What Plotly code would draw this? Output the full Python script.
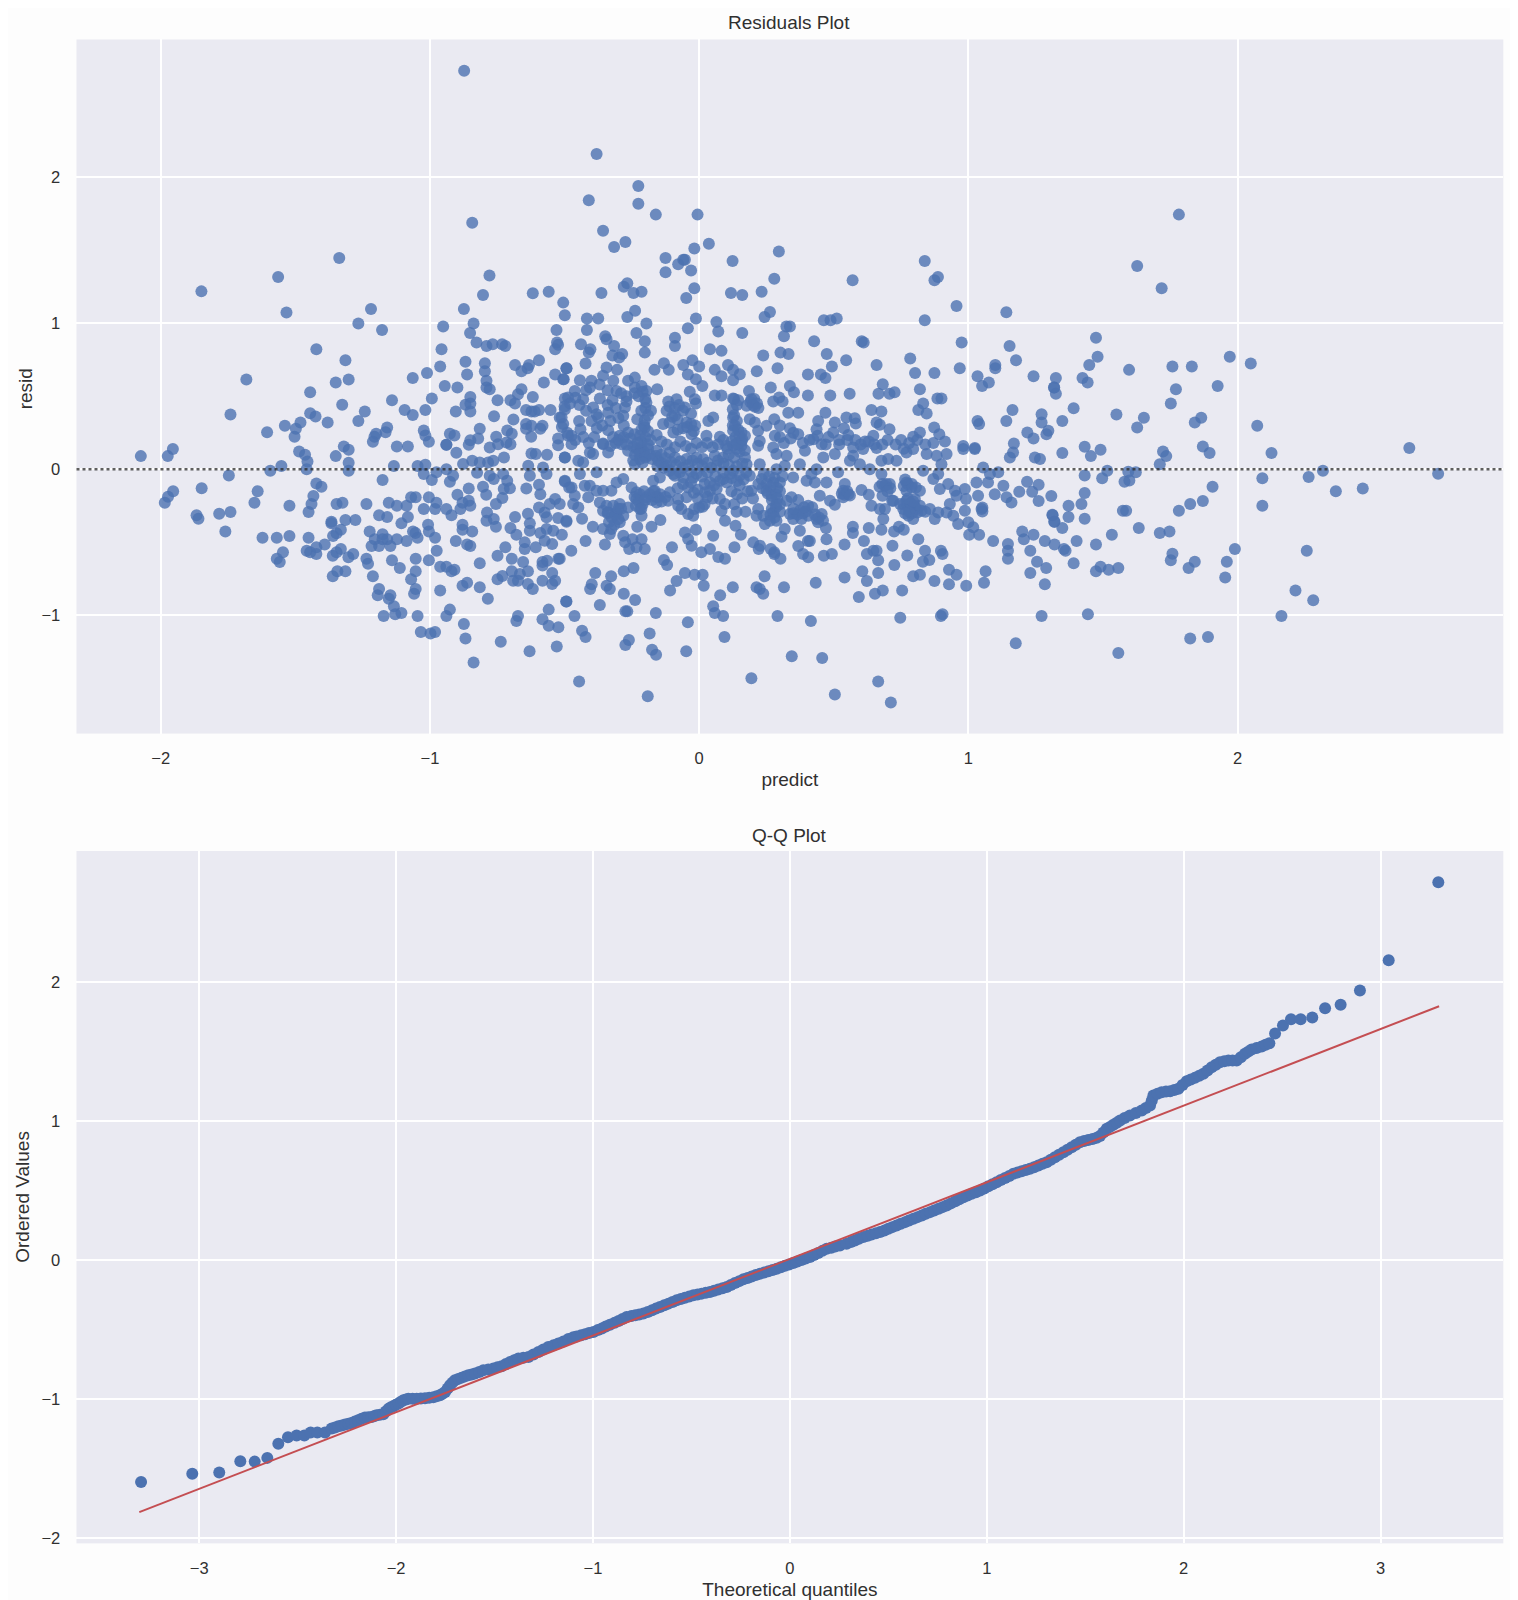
import plotly.graph_objects as go

# Residuals plot: (predict, resid), grouped by region
points_upper_left = [
(-.873,2.726),(-.843,1.687),(-1.337,1.445),(-1.564,1.316),(-1.849,1.217),(-1.533,1.072),(-1.219,1.097),(-1.266,.997),(-1.178,.953),
(-.779,1.325),(-.803,1.192),(-.874,1.097),(-.838,.997),(-.951,.976),(-.851,.933),(-.618,1.204),(-.559,1.215),(-.505,1.140),(-.499,1.053),
(-.530,.953),(-.827,.867),(-.790,.844),(-.767,.855),(-.732,.855),(-.720,.844),(-.528,.867),(-.524,.851),(-.535,.821),(-1.422,.821),
(-1.314,.746),(-.957,.821),(-.962,.703),(-1.011,.659),(-1.064,.625),(-.868,.735),(-.862,.648),(-.796,.725),(-.796,.671),(-.790,.605),
(-.790,.559),(-.778,.548),(-.684,.714),(-.660,.671),(-.632,.714),(-.637,.691),(-.595,.746),(-.535,.648),(-.493,.691),(-.505,.616),
(-.577,.593),(-1.302,.614),(-1.350,.593),(-1.682,.614),(-1.445,.527),(-.945,.570),(-.898,.559),(-.660,.548),(-.673,.514),(-.993,.484),
(-1.141,.473),(-1.326,.441),(-.850,.495),(-.850,.450),(-.868,.441),(-.850,.395),(-.904,.395),(-1.017,.406),(-1.094,.406),(-1.064,.372),
(-1.242,.395),(-1.266,.331),(-1.445,.384),(-1.425,.361),(-1.380,.320),(-1.481,.320),(-1.498,.277),(-1.539,.297),(-1.503,.222),(-1.605,.254),
(-1.741,.374),(-.749,.473),(-.701,.473),(-.684,.450),(-.618,.495),(-.552,.406),(-.643,.406),(-.623,.395),(-.611,.395),(-.595,.406),
(-.499,.484),(-.762,.363),(-.690,.340),(-.518,.354),(-.505,.309),(-.643,.309),(-.623,.297),(-.643,.277),(-.590,.277),(-.582,.297),
(-.624,.222),(-.815,.277),(-.713,.265),(-.696,.243),(-.754,.222),(-.821,.211),(-.850,.199),(-.856,.167),(-.926,.243),(-.909,.231),
(-1.023,.265),(-1.017,.231),(-1.004,.188),(-1.159,.286),(-1.165,.254),(-1.200,.243),(-1.206,.222),(-1.212,.188),(-1.123,.156),(-1.082,.156),
(-.939,.167),(-1.320,.156),(-1.302,.133),(-1.486,.122),(-1.955,.138),(-.524,.211),(-.524,.165),(-.487,.229),(-.778,.149),(-.747,.172),
(-.716,.183),(-.701,.172),
]
points_lower_left = [
(-2.074,.090),(-1.974,.090),(-1.954,-.151),(-1.973,-.188),(-1.985,-.229),(-1.848,-.129),(-1.747,-.042),(-1.867,-.315),(-1.860,-.338),
(-1.783,-.304),(-1.741,-.293),(-1.760,-.425),(-1.652,-.229),(-1.640,-.151),(-1.593,-.010),(-1.552,.022),(-1.522,-.249),(-1.622,-.468),
(-1.569,-.468),(-1.522,-.457),(-1.451,-.468),(-1.546,-.568),(-1.569,-.612),(-1.558,-.634),(-1.458,-.557),(-1.445,-.568),(-1.422,-.580),
(-1.422,-.534),(-1.391,-.514),(-1.451,-.293),(-1.440,-.238),(-1.433,-.183),(-1.422,-.097),(-1.403,-.119),(-1.464,.099),(-1.455,.054),
(-1.458,.001),(-1.350,.090),(-1.302,.045),(-1.302,-.010),(-1.347,-.238),(-1.325,-.229),(-1.236,-.238),(-1.366,-.359),(-1.366,-.370),
(-1.314,-.347),(-1.277,-.347),(-1.331,-.413),(-1.347,-.438),(-1.360,-.457),(-1.361,-.591),(-1.331,-.545),(-1.347,-.568),(-1.303,-.602),
(-1.285,-.580),(-1.361,-.732),(-1.344,-.698),(-1.314,-.698),(-1.236,-.612),(-1.230,-.646),(-1.212,-.732),(-1.189,-.819),(-1.194,-.862),
(-1.224,-.425),(-1.189,-.315),(-1.159,-.327),(-1.153,-.229),(-1.123,-.249),(-1.087,-.249),(-1.176,-.074),(-1.134,.022),(-1.106,-.370),
(-1.082,-.327),(-1.176,-.445),(-1.205,-.479),(-1.176,-.479),(-1.159,-.479),(-1.123,-.479),(-1.087,-.491),(-1.217,-.525),(-1.189,-.525),
(-1.147,-.525),(-1.141,-.623),(-1.112,-.675),(-1.053,-.612),(-1.004,-.623),(-.975,-.557),(-1.053,-.698),(-1.070,-.753),(-1.053,-.819),
(-1.059,-.851),(-1.147,-.862),(-1.153,-.885),(-1.134,-.937),(-1.129,-.992),(-1.106,-.983),(-1.172,-1.003),(-1.046,-1.003),(-1.034,-1.113),
(-.998,-1.124),(-.981,-1.113),(-.962,-.830),(-.939,-1.003),(-.926,-.960),(-.874,-1.058),(-.868,-1.158),(-.838,-1.322),(-.737,-1.179),
(-.630,-1.245),(-.529,-1.213),(-.673,-1.003),(-.679,-1.038),(-.582,-1.026),(-.559,-1.070),(-.523,-1.081),(-.559,-.960),(-.494,-.905),
(-.785,-.885),(-.815,-.807),(-.879,-.796),(-.862,-.776),(-.815,-.643),(-.962,-.666),(-.939,-.666),(-.920,-.698),(-.909,-.687),(-1.054,-.436),
(-1.046,-.468),(-1.063,-.425),(-1.007,-.379),(-1.004,-.425),(-.981,-.468),(-1.023,-.272),(-.981,-.272),(-.939,-.272),(-.920,-.315),
(-1.004,-.192),(-.976,-.229),(-1.070,-.192),(-1.053,-.192),(-1.023,-.033),(-.993,-.074),(-.926,-.085),(-.914,-.044),(-1.046,.022),
(-1.017,.031),(-.939,.001),(-.976,-.021),(-.939,.168),(-.902,.113),(-.877,.036),(-.856,-.131),(-.898,-.174),(-.879,-.229),(-.856,-.215),
(-.887,-.272),(-.850,-.249),(-.904,-.491),(-.862,-.514),(-.850,-.525),(-.879,-.379),(-.879,-.413),(-.843,-.425),(-.803,-.119),(-.791,-.174),
(-.843,.058),(-.815,.047),(-.825,-.024),(-.784,.047),(-.765,.058),(-.778,-.044),(-.763,-.067),(-.725,.081),(-.728,-.033),(-.713,-.078),
(-.703,-.129),(-.726,-.135),(-.731,-.197),(-.755,-.238),(-.788,-.295),(-.790,-.352),(-.763,-.340),(-.755,-.393),(-.684,-.327),(-.701,-.402),
(-.679,-.448),(-.720,-.534),(-.749,-.591),(-.696,-.612),(-.749,-.753),(-.731,-.730),(-.696,-.698),(-.691,-.762),(-.666,-.716),(-.673,-.762),
(-.654,-.634),(-.636,-.698),(-.636,-.785),(-.618,-.819),(-.582,-.762),(-.546,-.710),(-.546,-.785),(-.535,-.762),(-.648,-.500),(-.648,-.545),
(-.607,-.534),(-.582,-.634),(-.565,-.625),(-.582,-.659),(-.523,-.612),(-.629,-.420),(-.629,-.370),(-.636,-.304),(-.590,-.436),(-.574,-.489),
(-.546,-.511),(-.567,-.409),(-.542,-.420),(-.510,-.448),(-.595,-.261),(-.574,-.295),(-.555,-.238),(-.535,-.204),(-.567,-.329),(-.524,-.334),
(-.493,-.352),(-.590,-.170),(-.595,-.106),(-.642,-.131),(-.635,.024),(-.629,-.044),(-.607,.104),(-.623,.108),(-.565,.099),(-.567,-.033),
(-.580,.013),(-.499,.081),(-.499,-.083),(-.483,-.124),
]
points_upper_middle = [
(-.381,2.156),(-.226,1.938),(-.410,1.840),(-.226,1.817),(-.161,1.742),(-.006,1.742),(-.357,1.632),(-.316,1.521),(-.274,1.555),(.036,1.543),
(-.018,1.511),(-.125,1.445),(-.125,1.347),(-.078,1.402),(-.059,1.434),(-.053,1.434),(-.030,1.359),(-.018,1.238),(-.048,1.172),(.124,1.425),
(.296,1.489),(.279,1.304),(.232,1.215),(.118,1.206),(.160,1.192),(-.363,1.206),(-.280,1.249),(-.267,1.272),(-.244,1.206),(-.214,1.215),
(-.238,1.085),(-.267,1.042),(-.417,1.031),(-.375,1.031),(-.417,.953),(-.196,.997),(-.233,.933),(-.012,1.031),(-.042,.965),(.064,1.008),
(.071,.942),(.160,.933),(.243,1.042),(.263,1.076),(.315,.910),(.324,.976),(.337,.976),(.463,1.019),(.488,1.019),(.511,1.031),(.570,1.293),
(.838,1.425),(.874,1.293),(.887,1.316),(.956,1.117),(.838,1.019),(1.141,1.074),(.427,.876),(.604,.876),(.611,.867),(.975,.867),(1.153,.844),
(1.177,.746),(-.349,.910),(-.344,.889),(-.439,.855),(-.404,.821),(-.410,.798),(-.316,.844),(-.286,.789),(-.322,.778),(-.202,.876),(-.202,.798),
(-.090,.899),(-.090,.844),(.040,.821),(.083,.810),(.238,.778),(.302,.798),(.332,.789),(.474,.789),(.493,.703),(.546,.746),(.659,.714),
(.784,.757),(.802,.659),(.874,.659),(.968,.691),(1.034,.637),(1.051,.570),(1.076,.593),(1.100,.714),(1.100,.691),(1.242,.637),(1.318,.559),
(-.422,.723),(-.493,.691),(-.297,.764),(-.305,.680),(-.344,.696),(-.166,.680),(-.131,.725),(-.113,.680),(-.059,.714),(-.025,.746),(.000,.703),
(.058,.680),(.083,.637),(.107,.714),(.126,.680),(.151,.650),(.126,.609),(.214,.671),(.291,.691),(.404,.648),(.452,.648),(.469,.625),
(-.042,.648),(-.012,.616),(.012,.570),(-.503,.616),(-.443,.609),(-.400,.605),(-.357,.639),(-.319,.605),(-.264,.605),(-.239,.627),(-.214,.570),
(-.196,.536),(-.156,.548),(-.462,.536),(-.406,.559),(-.307,.536),(-.239,.559),(-.487,.491),(-.431,.479),(-.369,.484),(-.322,.473),(-.270,.463),
(-.394,.422),(-.381,.377),(-.338,.386),(-.375,.354),(-.499,.409),(-.511,.354),(-.446,.331),(-.441,.274),(-.276,.422),(-.282,.366),(-.230,.343),
(-.202,.336),(-.196,.456),(-.179,.400),(-.115,.463),(-.084,.479),(-.121,.400),(-.090,.366),(-.035,.530),(-.016,.479),(-.053,.422),(-.012,.450),
(.058,.504),(.083,.504),(.126,.484),(.145,.473),(.185,.536),(.194,.479),(.207,.427),(.176,.434),(.266,.559),(.337,.570),(.352,.527),(.297,.491),
(.275,.463),(.310,.463),(.404,.504),(.487,.504),(.559,.516),(.682,.582),(.666,.516),(.707,.516),(.726,.527),(.820,.548),(.832,.450),(.814,.406),
(.845,.381),(.885,.484),(.900,.484),(.640,.406),(.677,.395),(.469,.386),(.331,.386),(.368,.386),(1.164,.406),(1.141,.331),(1.272,.377),(1.272,.320),
(1.034,.331),(1.040,.309),(.547,.354),(.578,.349),(.582,.313),(.504,.320),(.442,.331),(.436,.274),(.538,.281),(.498,.252),(.554,.235),(.659,.320),
(.671,.304),(.707,.274),(.873,.286),(.892,.240),(.913,.190),(.820,.252),(.795,.222),(1.219,.252),(1.242,.211),(1.297,.263),(1.290,.240),(.647,.229),
(.616,.190),(.572,.149),(1.169,.176),(.981,.160),(1.024,.145),(.188,.343),(.207,.320),(.250,.297),(.279,.343),(.337,.281),(.368,.240),(.281,.229),
(.219,.263),(.225,.194),(.424,.206),(.455,.172),(.034,.331),(.052,.354),(.126,.354),(.133,.297),(.157,.252),(.126,.263),(.157,.190),(.027,.229),
(.077,.222),(-.028,.240),(-.047,.320),(-.096,.252),(-.134,.309),(-.158,.235),(-.338,.267),(-.295,.229),(-.264,.252),(-.220,.229),(-.202,.286),
(-.357,.176),(-.474,.229),(-.474,.172),
]
points_lower_middle = [
(.194,-1.430),(-.446,-1.452),(-.191,-1.553),(.504,-1.541),(.665,-1.452),(.712,-1.596),(.344,-1.279),(.457,-1.291),(-.048,-1.245),(-.160,-1.268),
(-.175,-1.234),(-.274,-1.202),(-.261,-1.168),(-.184,-1.124),(-.422,-1.147),(-.435,-1.104),(-.042,-1.047),(.094,-1.147),(1.176,-1.190),(1.272,-1.003),
(.747,-1.015),(.898,-1.003),(.904,-.992),(.291,-1.003),(.415,-1.038),(.089,-1.003),(.058,-.983),(.052,-.937),(.078,-.862),(-.161,-.983),(-.274,-.972),
(-.267,-.972),(-.369,-.928),(-.463,-1.003),(-.493,-.905),(-.238,-.894),(-.280,-.851),(-.108,-.830),(.017,-.796),(-.084,-.764),(-.053,-.710),
(-.017,-.721),(.013,-.721),(.125,-.807),(.213,-.807),(.225,-.819),(.238,-.851),(.315,-.807),(.433,-.776),(.243,-.732),(.540,-.741),(.606,-.698),
(.623,-.764),(.665,-.710),(.593,-.874),(.653,-.851),(.682,-.830),(.754,-.830),(.795,-.732),(.820,-.721),(.874,-.764),(.928,-.687),(.956,-.721),
(.928,-.787),(.992,-.796),(1.058,-.776),(1.064,-.698),(1.230,-.710),(1.289,-.675),(1.284,-.787),(1.255,-.632),(.725,-.655),(.831,-.632),(.855,-.621),
(.773,-.589),(.839,-.557),(.898,-.557),(.904,-.580),(1.147,-.511),(1.147,-.557),(1.147,-.612),(1.230,-.557),(1.200,-.425),(1.206,-.479),(1.242,-.448),
(1.284,-.491),(1.320,-.514),(1.092,-.491),(1.040,-.448),(1.003,-.448),(.814,-.479),(.718,-.523),(.623,-.580),(.647,-.557),(.659,-.557),(.665,-.623),
(.612,-.491),(.540,-.514),(.677,-.413),(.630,-.402),(.571,-.393),(.571,-.436),(.724,-.425),(.742,-.393),(.760,-.413),(.473,-.479),(.404,-.491),
(.411,-.491),(.368,-.525),(.386,-.580),(.405,-.602),(.463,-.591),(.493,-.580),(.266,-.545),(.279,-.568),(.302,-.612),(.279,-.580),(.221,-.545),
(.201,-.500),(.226,-.523),(.131,-.534),(.071,-.600),(.096,-.612),(.155,-.448),(.135,-.386),(.008,-.568),(-.028,-.523),(-.041,-.477),(-.053,-.432),
(.040,-.545),(.052,-.454),(-.012,-.413),(-.101,-.534),(-.131,-.621),(-.119,-.655),(-.202,-.545),(-.214,-.479),(-.248,-.479),(-.275,-.500),(-.233,-.534),
(-.260,-.545),(-.244,-.675),(-.280,-.698),(-.327,-.732),(-.332,-.819),(-.344,-.796),(-.386,-.710),(-.399,-.787),(-.405,-.819),(-.350,-.514),(-.422,-.491),
(-.475,-.557),(-.518,-.612),(-.177,-.393),(-.144,-.347),(-.230,-.393),(-.282,-.454),(-.332,-.443),(-.357,-.409),(-.395,-.393),(-.435,-.338),(-.493,-.359),
]
points_center = [
(.000,-.261),(-.018,-.272),(.013,-.256),(-.066,-.272),(-.041,-.306),(-.022,-.318),(-.078,-.249),(.077,-.204),(.096,-.238),(.083,-.283),(.096,-.352),
(.139,-.290),(.172,-.290),(.219,-.272),(.238,-.318),(.213,-.318),(.275,-.295),(.263,-.352),(.244,-.375),(.287,-.352),(.325,-.215),(.343,-.192),
(.368,-.211),(.405,-.249),(.374,-.283),(.337,-.306),(.349,-.340),(.380,-.340),(.405,-.318),(.436,-.340),(.455,-.306),(.442,-.363),(.471,-.402),
(.374,-.420),(.318,-.409),(.306,-.461),(.486,-.215),(.504,-.243),(.535,-.147),(.554,-.170),(.535,-.192),(.603,-.142),(.630,-.174),(.640,-.249),
(.671,-.272),(.690,-.272),(.684,-.340),(.717,-.215),(.746,-.238),(.770,-.215),(.783,-.272),(.807,-.272),(.826,-.283),(.795,-.340),(.777,-.318),
(.758,-.272),(.801,-.204),(.857,-.272),(.875,-.340),(.888,-.295),(.919,-.295),(.944,-.318),(.962,-.375),(.987,-.283),(.991,-.204),(1.000,-.363),
(1.018,-.397),(1.049,-.272),(1.052,-.288),(1.098,-.170),(1.142,-.192),(1.160,-.227),(1.189,-.154),(1.218,-.085),(1.237,-.154),(1.261,-.106),
(1.261,-.217),(1.308,-.183),(1.312,-.311),(1.320,-.359),(.925,-.101),(.950,-.147),(.956,-.181),(.931,-.238),(.894,-.135),(.870,-.067),(.888,-.033),
(.832,-.010),(.900,.035),(.770,-.090),(.789,-.124),(.820,-.147),(.770,-.147),(.690,-.113),(.708,-.101),(.677,-.033),(.721,-.215),(.681,-.181),
(.541,-.101),(.516,-.021),(.430,-.090),(.399,-.078),(.473,-.090),(.448,-.181),(.349,-.056),(.417,-.033),(.987,-.135),(1.030,-.090),(1.055,.013),
(1.073,-.090),(1.080,-.033),(1.111,-.021),(1.130,-.113),(1.036,-.181),(1.052,-.261),(-.499,-.078),(-.474,-.124),(-.462,-.181),(-.468,-.238),
(-.449,-.261),(-.518,-.238),(-.406,-.113),(-.381,-.147),(-.357,-.147),(-.326,-.147),(-.412,-.192),(-.369,-.227),(-.344,-.249),(-.319,-.249),
(-.295,-.238),(-.357,-.283),(-.338,-.295),(-.307,-.295),(-.282,-.318),(-.295,-.363),(-.326,-.409),(-.264,-.261),(-.220,-.272),(-.214,-.318),
(-.233,-.158),(-.233,-.204),(-.196,-.192),(-.165,-.147),(-.152,-.192),(-.183,-.170),(-.158,-.227),(-.109,-.158),(-.115,-.215),(-.078,-.204),
(-.041,-.124),(-.047,-.192),(-.251,-.124),(-.282,-.067),(-.307,-.090),(-.425,-.113),(-.443,-.033),(-.381,-.021),(-.431,.047),(-.406,.115),
(-.394,.104),(-.449,.058),(-.499,.081),(-.357,.172),(-.338,.115),(-.288,.172),(-.264,.127),(-.220,.127),(-.202,.092),(-.220,.070),(-.239,.035),
(-.158,.127),(-.152,.058),(-.109,.115),(-.090,.081),(-.072,-.021),(-.121,.024),(-.047,.070),(-.010,.081),(.015,.070),(.058,.092),(.089,.081),
(.126,.161),(.157,.161),(.170,.081),(.219,.161),(.275,.149),(.287,.104),(.325,.092),(.393,.127),(.461,.081),(.504,.104),(.572,.092),(.609,.138),
(.659,.145),(.702,.070),(.733,.058),(.770,.115),(.795,.138),(.845,.104),(.882,.092),(.919,.104),(.981,.138),(1.024,.138),(1.154,.081),(1.166,.115),
(1.247,.081),(1.266,.070),(.065,.024),(.126,-.010),(.176,.035),(.225,.035),(.188,-.044),(.232,-.067),(.275,-.090),(.300,-.090),(.250,-.147),
(.269,-.181),(.287,-.238),(.194,-.147),(.102,-.090),(.077,-.078),(.040,-.147),(.021,-.158),(.065,-.135),(.089,-.067),(.151,-.044),(.114,-.033),
(-.022,-.056),(-.059,-.056),(-.096,-.033),(-.146,-.056),(-.171,-.078),(.287,.001),(.318,.024),(.374,.035),(.436,.001),(.560,.058),(.597,.035),
(.634,.001),(.677,.058),
]
points_dense_core = [
(-.245,.155),(-.232,.14),(-.215,.15),(-.205,.118),(-.19,.14),(-.238,.098),(-.222,.105),(-.2,.08),(-.182,.1),(-.175,.07),(-.245,.06),(-.21,.045),
(-.16,.09),(-.14,.1),(-.125,.075),(-.14,.04),(-.105,.05),(-.085,.03),(-.13,.01),(-.11,-.01),(-.09,-.045),(-.155,.02),(-.07,.055),(-.06,.01),
(-.04,.03),(-.025,.06),(-.005,.04),(.012,.02),(.03,.045),(-.03,-.015),(-.01,-.03),(.01,-.05),(.03,-.02),(.045,.01),
(.07,.06),(.09,.04),(.11,.1),(.13,.08),(.15,.12),(.11,.03),(.14,.02),(.16,.04),(.12,-.06),(.14,-.08),(.165,-.07),(.175,-.02),(.09,-.02),(.06,-.05),(.105,.14),(.14,.14),(.17,.13),
(.24,-.03),(.26,-.05),(.28,-.06),(.25,-.1),(.265,-.12),(.29,-.13),(.255,-.165),(.285,-.17),(.3,-.15),(.27,-.21),(.29,-.2),(.31,-.05),(.235,-.13),(.22,-.1),
(.27,-.27),(.285,-.26),(.3,-.29),(.265,-.31),(.28,-.33),(.3,-.24),
(-.34,-.3),(-.325,-.33),(-.31,-.31),(-.3,-.27),(-.335,-.36),(-.315,-.38),(-.3,-.34),(-.29,-.27),
(-.24,-.19),(-.225,-.22),(-.21,-.24),(-.22,-.17),(-.205,-.15),(-.235,-.25),(-.2,-.21),(-.215,-.27),
(-.175,-.21),(-.16,-.19),(-.145,-.17),(-.14,-.22),(-.17,-.15),(-.125,-.19),
(.76,-.24),(.775,-.25),(.785,-.23),(.8,-.25),(.81,-.295),(.79,-.3),(.78,-.29),(.765,-.3),(.82,-.25),(.775,-.2),(.795,-.22),(.84,-.29),
(.67,-.12),(.68,-.1),(.695,-.1),(.71,-.13),(.7,-.15),(.76,-.115),(.775,-.1),(.79,-.1),(.805,-.125),(.765,-.07),
(.53,-.165),(.54,-.175),(.55,-.15),(.56,-.18),(.43,-.31),(.445,-.33),(.46,-.35),(.42,-.26),(.395,-.29),(.35,-.3),(.365,-.31),(.385,-.3),(.35,-.27),(.39,-.26),
(.02,-.1),(.04,-.09),(.055,-.11),(.03,-.19),(.05,-.2),(-.02,-.16),(-.005,-.14),(-.005,-.2),(.02,-.24),(-.06,-.1),(-.08,-.13),(-.03,-.09),(.12,-.15),(.14,-.17),(.16,-.2),(.18,-.15),(.2,-.2),(.13,-.24),(.15,-.11),
(.13,.48),(.14,.44),(.125,.41),(.13,.37),(.14,.33),(.125,.3),(.145,.27),(.15,.23),(.135,.22),(.12,.19),(.14,.175),(.16,.205),(.17,.23),
(-.24,.52),(-.225,.5),(-.21,.53),(-.2,.48),(-.2,.42),(-.215,.4),(-.19,.37),(-.205,.3),(-.215,.27),(-.19,.26),(-.2,.22),(-.215,.19),(-.18,.2),(-.23,.18),(-.19,.17),
(-.11,.43),(-.09,.42),(-.075,.44),(-.1,.36),(-.08,.34),(-.06,.4),(-.03,.38),(-.045,.29),(-.03,.31),(-.015,.3),(-.06,.28),(-.08,.27),(-.02,.26),(-.11,.32),
(-.32,.22),(-.3,.2),(-.28,.22),(-.255,.21),(-.24,.24),(-.31,.18),(-.27,.17),(-.33,.16),(.19,.46),(.205,.48),(.215,.45),(.2,.44),(.22,.42),
(-.46,.49),(-.445,.44),(-.42,.4),(-.48,.45),(-.5,.43),(-.51,.29),(-.49,.25),(-.46,.2),(-.43,.22),(-.41,.18),(-.39,.22),(-.38,.28),(-.4,.33),(-.36,.3),(-.34,.44),(-.31,.42),
(-.3,.35),(-.33,.33),(-.28,.3),(-.27,.5),(-.29,.52),(-.34,.54),(-.42,.54),(-.37,.58),
(.3,.22),(.315,.18),(.34,.21),(.3,.3),(.35,.25),(.385,.18),(.41,.2),(.44,.23),(.47,.17),(.48,.22),(.52,.2),(.52,.17),(.55,.2),(.58,.2),(.6,.17),(.63,.19),(.65,.17),(.68,.17),
(.7,.2),(.73,.17),(.75,.2),(.78,.18),(.81,.2),(.84,.17),(.87,.18),(.76,.14),
(.01,.15),(.03,.18),(.05,.15),(.07,.17),(.09,.2),(.1,.16),(-.01,.18),(-.03,.14),(-.05,.16),(-.07,.19),(-.09,.15),(-.12,.17),(-.14,.19),
]
points_right = [
(1.782,1.742),(1.627,1.391),(1.718,1.238),(1.474,.899),(1.480,.769),(1.449,.714),(1.424,.625),(1.443,.593),(1.325,.625),(1.319,.559),(1.325,.516),
(1.597,.680),(1.758,.703),(1.830,.703),(1.771,.548),(1.926,.570),(1.971,.769),(2.049,.723),(1.752,.450),(1.391,.418),(1.550,.374),(1.652,.352),
(1.627,.286),(1.865,.352),(1.841,.320),(2.073,.297),(1.349,.331),(1.432,.154),(1.455,.090),(1.491,.133),(1.349,.111),(1.723,.122),(1.735,.090),
(1.711,.035),(1.871,.156),(1.896,.111),(2.126,.111),(2.638,.145),(1.516,-.010),(1.432,-.042),(1.497,-.062),(1.594,-.017),(1.622,-.021),(1.580,-.085),
(1.598,-.076),(1.432,-.163),(1.372,-.249),(1.420,-.238),(1.372,-.327),(1.432,-.338),(1.313,-.315),(1.319,-.359),(1.349,-.402),(1.402,-.491),(1.474,-.514),
(1.533,-.448),(1.574,-.283),(1.586,-.283),(1.633,-.402),(1.711,-.436),(1.747,-.425),(1.782,-.283),(1.824,-.238),(1.871,-.217),(1.907,-.119),(2.092,-.062),
(2.092,-.249),(2.264,-.053),(2.317,-.010),(2.365,-.151),(2.465,-.131),(2.745,-.031),(1.990,-.545),(2.257,-.557),(1.758,-.577),(1.752,-.623),(1.841,-.632),
(1.818,-.675),(1.960,-.632),(1.954,-.741),(1.355,-.546),(1.361,-.557),(1.391,-.643),(1.491,-.666),(1.474,-.698),(1.521,-.687),(1.557,-.675),(1.444,-.992),
(1.557,-1.256),(1.824,-1.158),(1.890,-1.147),(2.163,-1.003),(2.215,-.830),(2.281,-.896),
]
resid_points = (points_upper_left + points_lower_left + points_upper_middle
                + points_lower_middle + points_center + points_dense_core + points_right)
predict = [p[0] for p in resid_points]
resid = [p[1] for p in resid_points]

# Q-Q plot: (theoretical quantile, ordered value) read along the band
qq_lower = [
(-3.295,-1.597),(-3.035,-1.539),(-2.898,-1.530),(-2.791,-1.448),(-2.718,-1.451),(-2.654,-1.424),(-2.598,-1.323),(-2.549,-1.275),(-2.505,-1.263),
(-2.466,-1.263),(-2.434,-1.242),(-2.400,-1.242),(-2.361,-1.242),(-2.327,-1.213),(-2.310,-1.205),(-2.293,-1.196),(-2.276,-1.190),(-2.259,-1.184),
(-2.242,-1.178),(-2.226,-1.172),(-2.209,-1.162),(-2.192,-1.153),(-2.175,-1.143),(-2.158,-1.134),(-2.141,-1.132),(-2.124,-1.129),(-2.110,-1.122),
(-2.099,-1.117),(-2.082,-1.114),(-2.065,-1.110),(-2.052,-1.090),(-2.039,-1.071),(-2.026,-1.060),(-2.014,-1.052),(-2.001,-1.042),(-1.988,-1.033),
(-1.975,-1.020),(-1.963,-1.009),(-1.950,-1.003),(-1.938,-.999),(-1.916,-.999),(-1.895,-.999),(-1.874,-.997),(-1.853,-.995),(-1.832,-.991),(-1.811,-.987),
(-1.794,-.981),(-1.777,-.973),(-1.764,-.962),(-1.751,-.949),(-1.738,-.925),(-1.726,-.901),(-1.714,-.882),(-1.701,-.865),(-1.684,-.855),(-1.667,-.846),
(-1.650,-.837),(-1.633,-.829),(-1.616,-.823),(-1.599,-.817),(-1.578,-.805),(-1.557,-.793),(-1.532,-.787),(-1.506,-.781),(-1.485,-.772),(-1.464,-.764),
(-1.442,-.748),(-1.421,-.733),(-1.400,-.721),(-1.379,-.709),(-1.354,-.703),(-1.328,-.697),(-1.302,-.679),(-1.277,-.661),(-1.252,-.643),(-1.227,-.625),
(-1.200,-.613),(-1.176,-.601),(-1.150,-.585),(-1.125,-.568),(-1.100,-.556),(-1.083,-.549),(-1.060,-.540),(-1.040,-.533),(-1.020,-.525),(-.998,-.517),
(-.975,-.503),(-.955,-.492),(-.935,-.478),(-.914,-.465),(-.890,-.450),(-.870,-.438),(-.850,-.423),(-.829,-.409),(-.805,-.402),(-.785,-.396),(-.765,-.391),
(-.744,-.385),(-.722,-.373),(-.700,-.361),(-.680,-.349),(-.660,-.337),(-.638,-.325),(-.617,-.313),(-.596,-.301),(-.575,-.289),(-.554,-.279),(-.533,-.270),
(-.511,-.262),(-.490,-.253),(-.469,-.247),(-.448,-.241),(-.427,-.235),(-.406,-.229),(-.385,-.220),(-.364,-.211),(-.342,-.202),(-.321,-.193),(-.300,-.179),
(-.279,-.165),(-.257,-.151),(-.236,-.138),(-.215,-.128),(-.194,-.117),(-.173,-.107),(-.152,-.097),(-.130,-.088),(-.109,-.079),(-.088,-.070),(-.067,-.061),
(-.046,-.051),(-.025,-.041),(-.004,-.031),
]
qq_upper = [
(.017,-.021),(.038,-.010),(.059,.001),(.080,.012),(.102,.022),(.123,.037),(.144,.052),(.165,.067),(.187,.083),(.210,.090),(.230,.098),(.254,.106),(.288,.118),
(.310,.130),(.330,.142),(.350,.154),(.373,.166),(.395,.175),(.415,.184),(.437,.193),(.458,.202),(.480,.214),(.500,.226),(.520,.238),(.542,.250),(.563,.262),
(.585,.274),(.605,.286),(.627,.298),(.648,.310),(.670,.322),(.690,.334),(.712,.346),(.733,.358),(.755,.370),(.775,.382),(.796,.394),(.818,.409),(.840,.424),
(.860,.439),(.881,.454),(.902,.466),(.923,.478),(.945,.490),(.966,.502),(.987,.517),(1.008,.532),(1.029,.547),(1.050,.562),(1.071,.577),(1.093,.592),(1.114,.607),
(1.135,.622),(1.156,.631),(1.177,.640),(1.198,.649),(1.219,.658),(1.240,.670),(1.262,.682),(1.283,.694),(1.304,.706),(1.325,.724),(1.346,.742),(1.367,.760),
(1.389,.778),(1.410,.796),(1.431,.814),(1.452,.832),(1.473,.850),(1.494,.858),(1.515,.866),(1.537,.873),(1.558,.881),(1.575,.895),(1.592,.920),(1.609,.946),
(1.626,.960),(1.643,.975),(1.660,.990),(1.677,1.006),(1.700,1.024),(1.727,1.042),(1.757,1.060),(1.787,1.078),(1.808,1.096),(1.829,1.114),(1.838,1.150),(1.846,1.186),
(1.867,1.198),(1.888,1.210),(1.910,1.214),(1.931,1.217),(1.952,1.225),(1.973,1.234),(1.994,1.262),(2.015,1.289),(2.036,1.301),(2.057,1.313),(2.079,1.328),(2.100,1.342),
(2.121,1.366),(2.142,1.390),(2.163,1.408),(2.184,1.426),(2.206,1.432),(2.227,1.438),(2.248,1.438),(2.269,1.438),(2.290,1.462),(2.311,1.486),(2.328,1.502),(2.345,1.517),
(2.370,1.528),(2.396,1.539),(2.416,1.551),(2.435,1.563),(2.464,1.633),(2.504,1.690),(2.545,1.736),(2.594,1.736),(2.653,1.748),(2.718,1.815),(2.797,1.839),(2.895,1.942),
(3.041,2.160),(3.293,2.722),
]
qq_points = qq_lower + qq_upper
quantiles = [p[0] for p in qq_points]
ordered = [p[1] for p in qq_points]
fit_x = [-3.304, 3.297]
fit_y = [-1.815, 1.829]

resid_xticks = [-2, -1, 0, 1, 2]
resid_yticks = [-1, 0, 1, 2]
qq_xticks = [-3, -2, -1, 0, 1, 2, 3]
qq_yticks = [-2, -1, 0, 1, 2]

FONT = "Liberation Sans, Arial, sans-serif"
TEXT = "#303030"
W, H = 1510, 1592

fig = go.Figure()
fig.add_trace(go.Scatter(x=predict, y=resid, mode="markers", showlegend=False, xaxis="x", yaxis="y",
                         marker=dict(color="#4c72b0", size=12, opacity=0.8, line=dict(width=0))))
fig.add_trace(go.Scatter(x=quantiles, y=ordered, mode="markers", showlegend=False, xaxis="x2", yaxis="y2",
                         marker=dict(color="#4c72b0", size=12, line=dict(width=0))))
fig.add_trace(go.Scatter(x=fit_x, y=fit_y, mode="lines", showlegend=False, xaxis="x2", yaxis="y2",
                         line=dict(color="#c44e52", width=2)))

def axis(tickvals, rng, domain, title, standoff, anchor, ticklen):
    ax = dict(tickmode="array", tickvals=tickvals, range=rng, domain=domain, anchor=anchor,
              showgrid=True, gridcolor="#ffffff", gridwidth=1.7, zeroline=False, showline=False,
              ticks="outside", ticklen=ticklen, tickcolor="rgba(0,0,0,0)", tickwidth=1,
              tickfont=dict(family=FONT, size=16.5, color=TEXT))
    if title:
        ax["title"] = dict(text=title, standoff=standoff, font=dict(family=FONT, size=19, color=TEXT))
    return ax

def label(text, page_x, page_y, angle=0):
    return dict(text=text, xref="paper", yref="paper", x=(page_x - 8) / W, y=1 - (page_y - 8) / H,
                xanchor="center", yanchor="middle", showarrow=False, textangle=angle,
                font=dict(family=FONT, size=19, color=TEXT))

xd = [0.04536, 0.99026]
fig.update_layout(
    width=W, height=H, autosize=False, margin=dict(l=0, r=0, t=0, b=0),
    paper_bgcolor="#fdfdfd", plot_bgcolor="#eaeaf2", font=dict(family=FONT, color=TEXT),
    xaxis=axis(resid_xticks, [-2.313, 2.987], xd, "predict", 6, "y", 10),
    yaxis=axis(resid_yticks, [-1.808, 2.94], [0.54337, 0.98018], None, 0, "x", 12),
    xaxis2=axis(qq_xticks, [-3.623, 3.623], xd, "Theoretical quantiles", 6, "y2", 10),
    yaxis2=axis(qq_yticks, [-2.04, 2.947], [0.03373, 0.46947], None, 0, "x2", 12),
    shapes=[dict(type="line", xref="x domain", yref="y", x0=0, x1=1, y0=0, y1=0, layer="above",
                 line=dict(color="rgba(40,40,40,0.75)", width=2.5, dash="dot"))],
    annotations=[
        label("Residuals Plot", 789, 22.5),
        label("Q-Q Plot", 789, 837),
        label("resid", 25, 390, -90),
        label("Ordered Values", 23, 1199, -90),
    ],
)
fig.write_html("out.html")
